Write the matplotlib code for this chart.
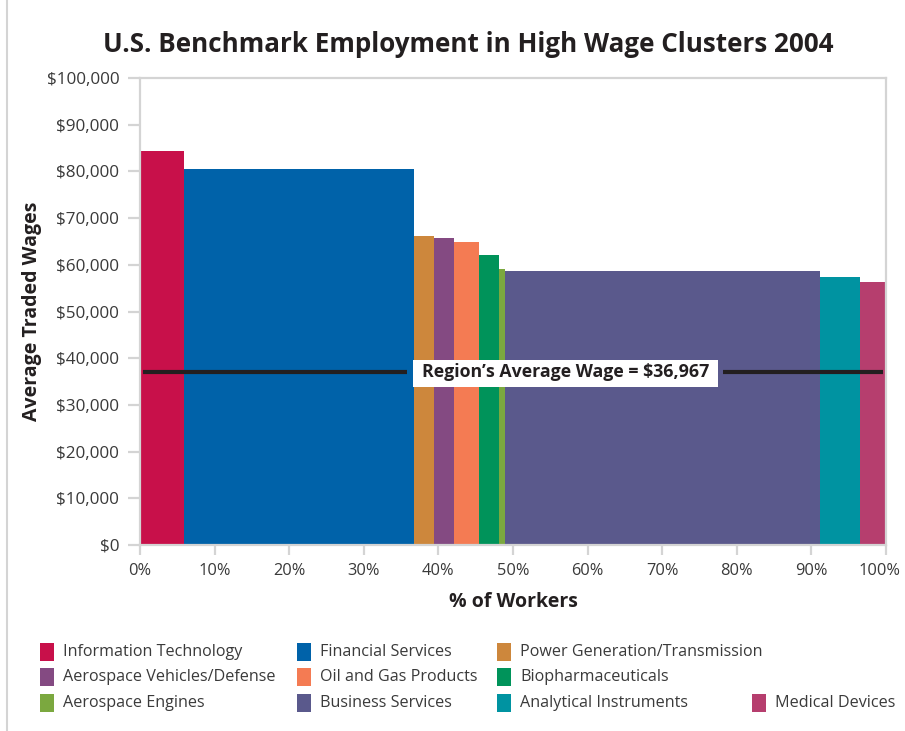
import matplotlib.pyplot as plt
import matplotlib.transforms as mtransforms
from matplotlib.patches import Rectangle
from matplotlib.lines import Line2D

plt.rcParams['font.family'] = ['Open Sans', 'DejaVu Sans']

clusters = ['Information Technology', 'Financial Services', 'Power Generation/Transmission',
            'Aerospace Vehicles/Defense', 'Oil and Gas Products', 'Biopharmaceuticals',
            'Aerospace Engines', 'Business Services', 'Analytical Instruments', 'Medical Devices']
# share of workers (%) and average traded wage ($)
shares = [5.9, 30.8, 2.7, 2.7, 3.3, 2.7, 0.8, 42.2, 5.4, 3.5]
wages = [84300, 80600, 66100, 65700, 64800, 62200, 59200, 58600, 57300, 56400]
colors = ['#c8104a', '#0062a9', '#cd873c', '#844a82', '#f47b53', '#00935a',
          '#7ba83f', '#5a598c', '#0093a1', '#b63e6e']
region_avg = 36967

yticks = list(range(0, 100001, 10000))
xticks = list(range(0, 101, 10))

fig = plt.figure(figsize=(9.05, 7.31), dpi=100)
ax = fig.add_axes([140/905, 1 - 545/731, 746/905, 467/731])

lefts = [sum(shares[:i]) for i in range(len(shares))]
ax.bar(lefts, wages, width=shares, align='edge', color=colors, linewidth=0)

ax.set_xlim(0, 100)
ax.set_ylim(0, 100000)
ax.set_xticks(xticks)
ax.set_xticklabels([f'{t}%' for t in xticks])
ax.set_yticks(yticks)
ax.set_yticklabels([f'${t:,}' for t in yticks])
for s in ax.spines.values():
    s.set_color('#d4d4d4')
    s.set_linewidth(1.6)
ax.tick_params(axis='both', colors='#d4d4d4', width=1.6, labelcolor='#3a3a3a', labelsize=12.3)
ax.tick_params(axis='y', length=9, pad=6)
ax.tick_params(axis='x', length=7, pad=6, labelsize=11.8)
# nudge "100%" left so it stays inside the page
last = ax.get_xticklabels()[-1]
last.set_transform(last.get_transform() + mtransforms.ScaledTranslation(-5/72, 0, fig.dpi_scale_trans))

# region average line, broken around the white label box
ax.plot([0.4, 35.8], [region_avg, region_avg], color='#231f20', linewidth=3, solid_capstyle='butt')
ax.plot([78.2, 99.6], [region_avg, region_avg], color='#231f20', linewidth=3, solid_capstyle='butt')
ax.add_patch(Rectangle((36.6, 33800), 40.9, 5800, facecolor='white', edgecolor='none', zorder=3))
ax.text(57.1, region_avg, "Region\u2019s Average Wage = $36,967", ha='center', va='center',
        fontsize=12.8, fontweight='bold', color='#231f20', zorder=4)

ax.set_xlabel('% of Workers', fontsize=14, fontweight='bold', color='#231f20', labelpad=9)
ax.set_ylabel('Average Traded Wages', fontsize=14, fontweight='bold', color='#231f20', labelpad=3)
fig.text(468/905, 1 - 45/731, 'U.S. Benchmark Employment in High Wage Clusters 2004',
         ha='center', va='center', fontsize=18.7, fontweight='bold', color='#231f20')

# page border line on the left
fig.add_artist(Line2D([7/905, 7/905], [0, 1], transform=fig.transFigure, color='#d4d4d4', linewidth=1.5))

# legend laid out in rows
col_x = [40, 297, 497, 752]
row_y = [652, 677, 703]
slots = [(0, 0), (0, 1), (0, 2), (1, 0), (1, 1), (1, 2), (2, 0), (2, 1), (2, 2), (2, 3)]
for name, col, (r, c) in zip(clusters, colors, slots):
    x = col_x[c]
    y = row_y[r]
    fig.add_artist(Rectangle((x/905, 1 - (y + 9)/731), 14/905, 18/731,
                             transform=fig.transFigure, facecolor=col, edgecolor='none'))
    fig.text((x + 23)/905, 1 - y/731, name, ha='left', va='center', fontsize=11.6, color='#3a3a3a')

fig.savefig('out.png', dpi=100)
